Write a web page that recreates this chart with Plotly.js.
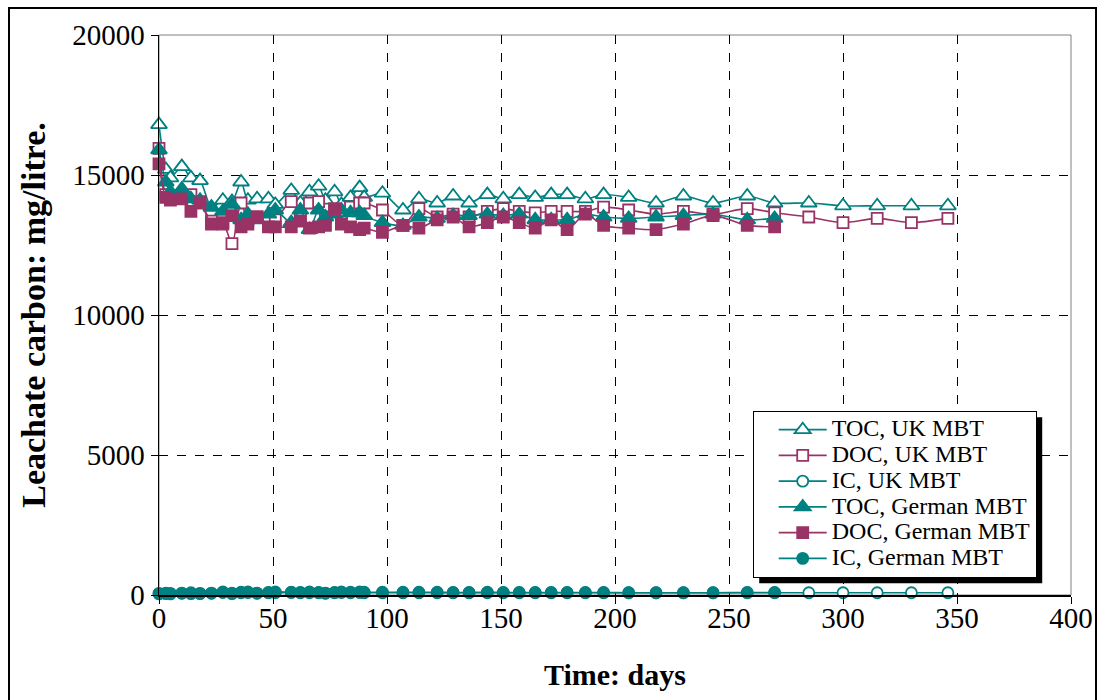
<!DOCTYPE html>
<html>
<head>
<meta charset="utf-8">
<script src="https://cdn.plot.ly/plotly-3.0.1.min.js"></script>
<style>
  html, body { margin: 0; padding: 0; background: #fff; overflow: hidden; }
  #chart { width: 1100px; height: 700px; }
  #frame { position: absolute; left: 8px; top: 7px; width: 1085px; height: 720px;
           border: 2px solid #000; pointer-events: none; }
</style>
</head>
<body>
<div id="chart"></div>
<div id="frame"></div>
<script>
// ---- data ----
const daysUK = [0, 3, 5, 10, 14, 18, 23, 28, 32, 36, 39, 43, 48, 51, 58, 62, 66, 70, 73, 77,
  80, 84, 88, 90, 98, 107, 114, 122, 129, 136, 144, 151, 158, 165, 172, 179, 187, 195, 206,
  218, 230, 243, 258, 270, 285, 300, 315, 330, 346];
const daysGerman = [0, 3, 5, 10, 14, 18, 23, 28, 32, 36, 39, 43, 48, 51, 58, 62, 66, 70, 73, 77,
  80, 84, 88, 90, 98, 107, 114, 122, 129, 136, 144, 151, 158, 165, 172, 179, 187, 195, 206,
  218, 230, 243, 258, 270];

const tocUK = [16800, 15200, 14900, 15300, 14900, 14800, 13850, 14100, 14050, 14750, 14100, 14150,
  14150, 13950, 14450, 14000, 14400, 14600, 14100, 14400, 13950, 14200, 14550, 14200, 14350,
  13750, 14150, 14000, 14250, 14000, 14300, 14150, 14300, 14200, 14300, 14300, 14150, 14300,
  14200, 14000, 14250, 14000, 14250, 14000, 14000, 13900, 13900, 13900, 13900];
const docUK = [15950, 14300, 14200, 14200, 14300, 14050, 13350, 13300, 12550, 14000, 13400, 13500,
  13300, 13400, 14050, 13500, 14000, 14050, 13500, 13700, 13600, 13850, 14000, 14000, 13750,
  13200, 13800, 13500, 13600, 13500, 13700, 13800, 13700, 13650, 13700, 13700, 13700, 13850,
  13750, 13600, 13700, 13600, 13800, 13650, 13500, 13300, 13450, 13300, 13450];
const icUK = [60, 70, 60, 70, 80, 60, 70, 90, 70, 80, 90, 70, 80, 80, 90, 80, 80, 90, 70, 80,
  90, 80, 90, 80, 80, 80, 80, 80, 80, 80, 80, 80, 80, 80, 80, 80, 80, 80, 80,
  80, 80, 80, 80, 80, 80, 80, 80, 80, 80];

const tocGerman = [15900, 14750, 14400, 14500, 14150, 14100, 13850, 13700, 13950, 13400, 13600,
  13400, 13600, 13750, 13300, 13750, 13050, 13750, 13500, 13600, 13750, 13650, 13650, 13550,
  13300, 13200, 13500, 13450, 13550, 13550, 13600, 13550, 13600, 13400, 13400, 13400, 13600,
  13500, 13450, 13500, 13550, 13600, 13400, 13450];
const docGerman = [15400, 14200, 14100, 14150, 13700, 14000, 13250, 13250, 13550, 13150, 13250,
  13500, 13150, 13150, 13150, 13350, 13100, 13150, 13200, 13800, 13250, 13150, 13050, 13100,
  12950, 13200, 13100, 13400, 13500, 13150, 13300, 13500, 13300, 13100, 13400, 13050, 13600,
  13200, 13100, 13050, 13250, 13550, 13200, 13150];
const icGerman = [40, 50, 40, 60, 50, 50, 60, 110, 50, 100, 110, 60, 90, 110, 100, 90, 110, 80,
  60, 90, 110, 100, 110, 100, 100, 100, 100, 100, 90, 90, 100, 90, 90, 90, 90, 90, 90, 90,
  80, 80, 80, 80, 90, 90];

const seriesNames = ["TOC, UK MBT", "DOC, UK MBT", "IC, UK MBT",
  "TOC, German MBT", "DOC, German MBT", "IC, German MBT"];

// ---- styles ----
const TEAL = "#008080";
const PLUM = "#993366";
const SERIF = "Liberation Serif, Times New Roman, serif";

function tr(x, y, name, color, symbol, size, filled) {
  return {
    x: x, y: y, type: "scatter", mode: "lines+markers",
    name: '<span style="font-size:24px">' + name + '</span>',
    cliponaxis: false,
    line: { color: color, width: 1.6, shape: "spline", smoothing: 0.8 },
    marker: { symbol: symbol, size: size, color: filled ? color : "#ffffff",
              line: { color: color, width: 1.8 } }
  };
}

const traces = [
  tr(daysUK, tocUK, seriesNames[0], TEAL, "triangle-up", 14, false),
  tr(daysUK, docUK, seriesNames[1], PLUM, "square", 11, false),
  tr(daysUK, icUK, seriesNames[2], TEAL, "circle", 11, false),
  tr(daysGerman, tocGerman, seriesNames[3], TEAL, "triangle-up", 14, true),
  tr(daysGerman, docGerman, seriesNames[4], PLUM, "square", 11, true),
  tr(daysGerman, icGerman, seriesNames[5], TEAL, "circle", 11, true)
];

const axisCommon = {
  showgrid: true, gridcolor: "#000000", griddash: "dash", gridwidth: 1,
  zeroline: false, showline: true, linecolor: "#000000", linewidth: 1.5,
  ticks: "outside", ticklen: 7, tickwidth: 1, tickcolor: "#000000",
  tickfont: { family: SERIF, size: 29, color: "#000" }
};

const layout = {
  width: 1100, height: 700,
  margin: { l: 159, r: 29, t: 35, b: 105 },
  paper_bgcolor: "#ffffff", plot_bgcolor: "#ffffff",
  font: { family: SERIF, color: "#000" },
  showlegend: true,
  xaxis: Object.assign({}, axisCommon, {
    range: [0, 400], dtick: 50, tick0: 0, ticklabelstandoff: -10,
    title: { text: "<b>Time: days</b>", font: { family: SERIF, size: 30, color: "#000" }, standoff: 30 }
  }),
  yaxis: Object.assign({}, axisCommon, {
    range: [0, 20000], dtick: 5000, tick0: 0, tickformat: "d",
    title: { text: "<b>Leachate carbon: mg/litre.</b>", font: { family: SERIF, size: 34, color: "#000" }, standoff: 16 }
  }),
  legend: {
    x: 0.651, y: 0.329, xanchor: "left", yanchor: "top",
    bgcolor: "#ffffff", bordercolor: "#000000", borderwidth: 1,
    font: { family: SERIF, size: 17.5, color: "#000" },
    indentation: 20, itemwidth: 48,
    tracegroupgap: 0
  },
  shapes: [
    { type: "rect", xref: "paper", yref: "paper", x0: 0, x1: 1, y0: 0, y1: 1,
      line: { color: "#808080", width: 1 }, layer: "below" }
  ]
};

Plotly.newPlot("chart", traces, layout, { displayModeBar: false, staticPlot: true }).then(function (gd) {
  // legend drop shadow, placed from the rendered legend box
  const bg = gd.querySelector(".legend .bg");
  if (!bg) return;
  const r = bg.getBoundingClientRect();
  const g = gd.getBoundingClientRect();
  const s = gd._fullLayout._size;
  const off = 6;
  const px0 = r.left - g.left + off, px1 = r.right - g.left + off;
  const py0 = r.top - g.top + off, py1 = r.bottom - g.top + off;
  const shadow = {
    type: "rect", xref: "paper", yref: "paper", layer: "above",
    x0: (px0 - s.l) / s.w, x1: (px1 - s.l) / s.w,
    y0: 1 - (py1 - s.t) / s.h, y1: 1 - (py0 - s.t) / s.h,
    fillcolor: "#000000", line: { width: 0 }
  };
  return Plotly.relayout(gd, { shapes: layout.shapes.concat([shadow]) });
});
</script>
</body>
</html>
